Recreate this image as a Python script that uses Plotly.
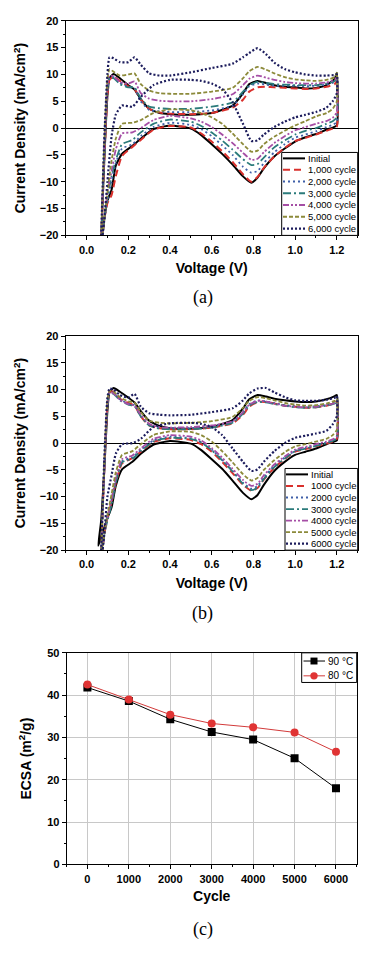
import plotly.graph_objects as go

W, H = 366, 962

# ---------------- data: panel (a) ----------------
V_UP = [0.07, 0.085, 0.10, 0.11, 0.13, 0.16, 0.20, 0.23, 0.26, 0.30, 0.35, 0.40, 0.50, 0.60,
        0.70, 0.75, 0.78, 0.82, 0.86, 0.90, 0.95, 1.00, 1.05, 1.10, 1.15, 1.19, 1.20]
V_DN = [1.20, 1.18, 1.15, 1.10, 1.05, 1.00, 0.95, 0.90, 0.85, 0.82, 0.79, 0.75, 0.70, 0.65,
        0.60, 0.55, 0.50, 0.40, 0.32, 0.26, 0.22, 0.17, 0.14, 0.12, 0.10, 0.085, 0.07]

A_INIT_UP = [-22, -6, 6, 9.3, 10.1, 9.3, 8.0, 7.2, 5.4, 3.6, 2.8, 2.6, 2.5, 2.8, 4.2, 6.5, 8.2, 8.8, 8.4, 8.0, 7.7, 7.6, 7.4, 7.5, 8.0, 9.2, 10.3]
A_INIT_DN = [0.5, 0.1, -0.3, -1.1, -1.7, -2.5, -3.8, -5.3, -7.5, -9.2, -10.2, -9.0, -6.8, -4.8, -3.0, -1.3, -0.1, 0.5, -0.2, -2.0, -3.3, -4.8, -7.0, -11.5, -13.5, -17, -22]
A_1000_UP = [-22, -6, 6, 9.0, 9.6, 8.8, 7.8, 7.3, 5.3, 3.6, 2.9, 2.7, 2.6, 2.8, 3.8, 5.3, 6.8, 7.6, 7.7, 7.6, 7.5, 7.4, 7.3, 7.4, 7.7, 8.2, 8.8]
A_1000_DN = [0.3, -0.1, -0.5, -1.2, -1.8, -2.4, -3.7, -5.3, -7.4, -9.1, -10.0, -8.6, -6.3, -4.3, -2.5, -1.0, 0.1, 0.4, -0.3, -2.2, -3.5, -5.2, -9.0, -12.5, -14.0, -17, -22]
A_2000_UP = [-22, -5, 7, 9.3, 9.5, 8.5, 7.7, 7.4, 5.0, 3.4, 3.1, 3.0, 3.0, 3.3, 4.2, 6.3, 7.8, 8.3, 8.1, 7.9, 7.9, 7.9, 7.8, 7.9, 8.1, 8.6, 9.0]
A_2000_DN = [1.2, 0.6, 0.2, -0.6, -1.2, -1.8, -3.0, -4.5, -6.5, -8.0, -8.3, -7.2, -5.0, -3.2, -1.5, -0.2, 0.6, 1.0, 0.2, -1.5, -3.0, -3.8, -6.5, -10.0, -13.5, -17, -22]
A_3000_UP = [-22, -5, 7, 9.4, 9.3, 8.2, 7.6, 7.6, 5.5, 4.0, 3.7, 3.6, 3.6, 4.0, 4.8, 6.8, 8.0, 8.6, 8.4, 8.2, 8.1, 8.0, 8.0, 8.0, 8.3, 8.8, 9.2]
A_3000_DN = [2.0, 1.3, 0.8, 0.0, -0.5, -1.2, -2.3, -3.6, -5.5, -6.7, -6.9, -5.8, -4.0, -2.3, -0.8, 0.4, 1.2, 1.6, 0.8, -0.8, -2.2, -3.0, -6.0, -9.0, -13.0, -17, -22]
A_4000_UP = [-22, -4, 8, 9.8, 9.6, 8.6, 8.3, 8.7, 6.5, 5.5, 5.1, 5.0, 5.0, 5.4, 6.3, 8.0, 9.2, 9.8, 9.4, 9.0, 8.6, 8.4, 8.3, 8.3, 8.5, 9.0, 9.5]
A_4000_DN = [3.0, 1.9, 1.3, 0.8, 0.2, -0.4, -1.5, -2.8, -4.5, -5.7, -5.9, -4.6, -2.8, -1.2, 0.2, 1.2, 1.8, 2.3, 1.5, 0.0, -0.8, -1.0, -4.0, -8.0, -12.0, -17, -22]
A_5000_UP = [-22, -3, 9, 11.0, 10.5, 9.8, 10.0, 10.2, 8.2, 7.0, 6.5, 6.4, 6.4, 6.8, 7.5, 9.3, 10.6, 11.4, 10.9, 10.2, 9.5, 9.1, 8.9, 8.8, 9.0, 9.5, 10.3]
A_5000_DN = [5.0, 3.6, 2.8, 2.2, 1.3, 0.5, -0.5, -1.6, -3.0, -4.2, -4.4, -3.0, -1.0, 0.8, 2.0, 2.8, 3.3, 3.5, 2.8, 1.5, 1.0, 0.8, -2.0, -6.0, -12.0, -17, -22]
A_6000_UP = [-22, -2, 10, 13.2, 13.0, 12.3, 12.3, 13.2, 11.8, 10.2, 9.8, 9.8, 10.4, 11.2, 12.0, 13.2, 14.0, 14.9, 13.8, 12.2, 11.0, 10.4, 10.0, 9.8, 9.8, 9.9, 10.0]
A_6000_DN = [6.5, 5.0, 3.8, 3.0, 2.5, 2.0, 1.2, 0.2, -1.2, -2.3, -2.4, 0.8, 4.8, 7.3, 8.3, 8.8, 9.0, 9.0, 8.0, 5.8, 4.0, 4.2, 2.5, -1.5, -10, -17, -22]

# ---------------- data: panel (b) ----------------
B_INIT_END_V = 0.056
B_INIT_END_I = -19.2
B_INIT_UP = [-14.5, -5, 6, 9.5, 10.3, 9.6, 8.5, 7.6, 6.0, 4.2, 3.2, 2.8, 2.7, 3.0, 4.3, 6.5, 8.2, 9.0, 8.7, 8.3, 8.0, 7.8, 7.7, 7.8, 8.2, 8.8, 9.0]
B_INIT_DN = [0.5, 0.2, -0.2, -1.0, -1.6, -2.2, -3.5, -5.2, -7.8, -9.7, -10.5, -9.3, -7.0, -4.8, -3.0, -1.3, -0.1, 0.4, -0.3, -2.0, -3.5, -4.9, -8.0, -12.0, -14.0, -15.8, -17.5]
B_1000_UP = [-22, -5, 7, 9.6, 9.6, 8.3, 7.5, 7.0, 5.0, 3.3, 2.8, 2.6, 2.6, 2.9, 3.7, 5.3, 6.8, 7.7, 7.7, 7.4, 7.0, 6.8, 6.6, 6.7, 7.0, 7.5, 7.8]
B_1000_DN = [0.8, 0.3, -0.1, -0.6, -1.1, -1.6, -3.0, -4.6, -6.8, -8.4, -8.9, -7.8, -5.6, -3.5, -1.6, -0.2, 0.6, 0.9, 0.2, -1.6, -2.8, -3.8, -7.5, -11.0, -14.0, -17, -22]
B_2000_UP = [-22, -5, 7, 9.5, 9.4, 8.2, 7.4, 7.1, 5.2, 3.5, 2.9, 2.8, 2.8, 3.1, 4.0, 5.8, 7.3, 8.0, 7.8, 7.5, 7.1, 6.9, 6.8, 6.9, 7.2, 7.6, 8.0]
B_2000_DN = [1.0, 0.5, 0.1, -0.4, -0.9, -1.4, -2.7, -4.2, -6.4, -8.0, -8.5, -7.4, -5.2, -3.1, -1.2, 0.2, 0.9, 1.2, 0.5, -1.3, -2.6, -3.4, -7.0, -10.5, -13.5, -17, -22]
B_3000_UP = [-22, -5, 7, 9.4, 9.2, 8.0, 7.2, 6.9, 5.0, 3.3, 2.7, 2.6, 2.6, 2.9, 3.8, 5.5, 7.0, 7.7, 7.6, 7.3, 7.0, 6.7, 6.6, 6.7, 7.0, 7.4, 7.8]
B_3000_DN = [0.9, 0.4, 0.0, -0.5, -1.0, -1.5, -2.9, -4.5, -6.7, -8.3, -8.8, -7.6, -5.3, -3.2, -1.3, 0.1, 0.8, 1.0, 0.3, -1.5, -2.9, -3.6, -7.5, -11.5, -14.5, -17, -22]
B_4000_UP = [-22, -5, 7.5, 9.5, 9.3, 8.1, 7.3, 7.0, 5.3, 3.6, 3.0, 2.9, 3.0, 3.3, 4.1, 5.8, 7.2, 7.9, 7.8, 7.4, 7.0, 6.8, 6.7, 6.8, 7.1, 7.5, 7.9]
B_4000_DN = [1.2, 0.7, 0.3, -0.2, -0.7, -1.2, -2.5, -4.0, -6.0, -7.6, -8.0, -6.9, -4.8, -2.7, -0.9, 0.5, 1.2, 1.5, 0.8, -1.0, -2.3, -3.0, -6.5, -10.5, -14.0, -17, -22]
B_5000_UP = [-22, -4, 8, 9.8, 9.6, 8.6, 7.8, 7.6, 5.8, 4.2, 3.8, 3.7, 3.8, 4.1, 4.9, 6.6, 7.9, 8.6, 8.4, 8.0, 7.5, 7.2, 7.0, 7.1, 7.4, 7.9, 8.3]
B_5000_DN = [2.5, 1.5, 0.8, 0.3, -0.2, -0.6, -1.7, -3.2, -5.0, -6.5, -7.0, -5.8, -3.6, -1.5, 0.3, 1.5, 2.1, 2.2, 1.5, -0.2, -1.5, -2.2, -5.5, -9.5, -13.5, -17, -22]
B_6000_UP = [-22, -3, 8.5, 10.2, 10.0, 9.0, 8.5, 9.2, 6.8, 5.6, 5.3, 5.2, 5.3, 5.8, 6.5, 8.0, 9.3, 10.2, 10.3, 9.5, 8.6, 8.0, 7.9, 7.9, 8.1, 8.5, 8.8]
B_6000_DN = [5.0, 3.5, 2.3, 1.8, 1.4, 1.0, 0.0, -1.5, -3.5, -4.9, -5.2, -3.5, -1.0, 1.5, 3.0, 3.6, 3.8, 3.7, 3.0, 0.8, 0.0, -0.2, -2.0, -6.0, -10.0, -17, -22]

A_NAMES = ["Initial", "1,000 cycle", "2,000 cycle", "3,000 cycle", "4,000 cycle", "5,000 cycle", "6,000 cycle"]
B_NAMES = ["Initial", "1000 cycle", "2000 cycle", "3000 cycle", "4000 cycle", "5000 cycle", "6000 cycle"]

# ---------------- data: panel (c) ----------------
CYCLES = [0, 1000, 2000, 3000, 4000, 5000, 6000]
ECSA_90 = [41.8, 38.6, 34.3, 31.3, 29.5, 25.1, 18.0]
ECSA_80 = [42.5, 39.0, 35.4, 33.3, 32.4, 31.2, 26.6]
C_NAMES = ["90 \u00b0C", "80 \u00b0C"]

# ---------------- styles ----------------
COLORS = ["#000000", "#d9302c", "#3f5fa8", "#2b7b7b", "#a54ea5", "#8c8a3a", "#1c1c5c"]
DASHES = ["solid", "7px,4px", "2px,3px", "8px,3px,2px,3px", "6px,2px,2px,2px,2px,2px", "4px,2px", "2px,2px"]
WIDTHS = [2, 2, 1.8, 1.8, 1.8, 1.8, 2.2]

SANS = "Liberation Sans, Arial, sans-serif"
SERIF = "Liberation Serif, Times New Roman, serif"


def px(x):
    return x / W


def py(y):
    return 1 - y / H


# plot areas in pixels (left, right, top, bottom)
PA = (65.7, 357.7, 15.0, 232.3)
PB = (65.7, 357.7, 334.3, 551.0)
PC = (66.7, 356.7, 655.0, 869.3)

fig = go.Figure()

a_sets = [(A_INIT_UP, A_INIT_DN), (A_1000_UP, A_1000_DN), (A_2000_UP, A_2000_DN), (A_3000_UP, A_3000_DN),
          (A_4000_UP, A_4000_DN), (A_5000_UP, A_5000_DN), (A_6000_UP, A_6000_DN)]
b_sets = [(B_INIT_UP, B_INIT_DN), (B_1000_UP, B_1000_DN), (B_2000_UP, B_2000_DN), (B_3000_UP, B_3000_DN),
          (B_4000_UP, B_4000_DN), (B_5000_UP, B_5000_DN), (B_6000_UP, B_6000_DN)]

for i, (up, dn) in enumerate(a_sets):
    fig.add_trace(go.Scatter(x=V_UP + V_DN, y=up + dn, mode="lines", name=A_NAMES[i],
                             line=dict(color=COLORS[i], dash=DASHES[i], width=WIDTHS[i], shape="spline", smoothing=0.5),
                             xaxis="x", yaxis="y", showlegend=False))

for i, (up, dn) in enumerate(b_sets):
    xs = V_UP + V_DN
    ys = up + dn
    if i == 0:
        xs = [B_INIT_END_V] + xs + [B_INIT_END_V]
        ys = [B_INIT_END_I] + ys + [B_INIT_END_I]
    fig.add_trace(go.Scatter(x=xs, y=ys, mode="lines", name=B_NAMES[i],
                             line=dict(color=COLORS[i], dash=DASHES[i], width=WIDTHS[i], shape="spline", smoothing=0.5),
                             xaxis="x2", yaxis="y2", showlegend=False))

fig.add_trace(go.Scatter(x=CYCLES, y=ECSA_90, mode="lines+markers", name=C_NAMES[0],
                         line=dict(color="#000000", width=1),
                         marker=dict(symbol="square", size=8, color="#000000"),
                         xaxis="x3", yaxis="y3", showlegend=False))
fig.add_trace(go.Scatter(x=CYCLES, y=ECSA_80, mode="lines+markers", name=C_NAMES[1],
                         line=dict(color="#d23a3a", width=1),
                         marker=dict(symbol="circle", size=8, color="#e03434"),
                         xaxis="x3", yaxis="y3", showlegend=False))

tickfont = dict(family=SANS, size=11, color="black", weight="bold")
titlefont = dict(family=SANS, size=14, color="black", weight="bold")


def xax(area, anchor, rng, dtick, mdtick, title, standoff, grid=False):
    return dict(domain=[px(area[0]), px(area[1])], anchor=anchor, range=rng, dtick=dtick, tick0=0,
                showline=True, linecolor="black", linewidth=1, mirror=True,
                ticks="outside", ticklen=4, tickwidth=1, tickcolor="black",
                minor=dict(dtick=mdtick, ticks="outside", ticklen=2, tickcolor="black", showgrid=False),
                showgrid=grid, gridcolor="#c8c8c8", gridwidth=1, zeroline=False,
                tickfont=tickfont, title=dict(text=title, font=titlefont, standoff=standoff))


def yax(area, anchor, rng, dtick, mdtick, title, standoff, grid=False, zl=False):
    return dict(domain=[py(area[3]), py(area[2])], anchor=anchor, range=rng, dtick=dtick, tick0=0,
                showline=True, linecolor="black", linewidth=1, mirror=True,
                ticks="outside", ticklen=4, tickwidth=1, tickcolor="black",
                minor=dict(dtick=mdtick, ticks="outside", ticklen=2, tickcolor="black", showgrid=False),
                showgrid=grid, gridcolor="#c8c8c8", gridwidth=1,
                zeroline=zl, zerolinecolor="black", zerolinewidth=1,
                tickfont=tickfont, title=dict(text=title, font=titlefont, standoff=standoff))


ytitle_cv = "Current Density (mA/cm<sup>2</sup>)"
fig.update_layout(
    width=W, height=H, margin=dict(l=0, r=0, t=0, b=0),
    paper_bgcolor="white", plot_bgcolor="white", showlegend=False,
    xaxis=xax(PA, "y", [-0.1, 1.3], 0.2, 0.1, "Voltage (V)", 8),
    yaxis=yax(PA, "x", [-20, 20], 5, 2.5, ytitle_cv, 10, zl=True),
    xaxis2=xax(PB, "y2", [-0.1, 1.3], 0.2, 0.1, "Voltage (V)", 8),
    yaxis2=yax(PB, "x2", [-20, 20], 5, 2.5, ytitle_cv, 10, zl=True),
    xaxis3=xax(PC, "y3", [-500, 6500], 1000, 500, "Cycle", 7, grid=True),
    yaxis3=yax(PC, "x3", [0, 50], 10, 5, "ECSA (m<sup>2</sup>/g)", 12, grid=True),
)
fig.update_xaxes(tickformat=".1f", selector=dict(anchor="y"))
fig.update_xaxes(tickformat=".1f", selector=dict(anchor="y2"))

shapes = []
annotations = []


def legend_box(x0, x1, y0, y1):
    shapes.append(dict(type="rect", xref="paper", yref="paper", x0=px(x0), x1=px(x1), y0=py(y1), y1=py(y0),
                       line=dict(color="black", width=1), fillcolor="white", layer="above"))


def cv_legend(box, rows, lx0, lx1, tx, names):
    legend_box(*box)
    for i, yy in enumerate(rows):
        shapes.append(dict(type="line", xref="paper", yref="paper", x0=px(lx0), x1=px(lx1), y0=py(yy), y1=py(yy),
                           line=dict(color=COLORS[i], dash=DASHES[i], width=WIDTHS[i]), layer="above"))
        annotations.append(dict(xref="paper", yref="paper", x=px(tx), y=py(yy), text=names[i], showarrow=False,
                                xanchor="left", yanchor="middle", font=dict(family=SANS, size=9.5, color="black")))


cv_legend((281.7, 357.7, 148.3, 232.3), [154.3, 165.9, 177.7, 189.6, 201.5, 213.4, 225.5], 283.0, 305.0, 305.5, A_NAMES)
cv_legend((285.0, 357.7, 468.3, 551.0), [474.3, 486.0, 497.7, 509.4, 521.1, 532.8, 544.5], 286.0, 308.0, 308.5, B_NAMES)

# legend (c)
legend_box(301.7, 356.7, 655.0, 685.0)
c_rows = [663.3, 678.3]
c_cols = ["#000000", "#d23a3a"]
c_mcols = ["#000000", "#e03434"]
for i, yy in enumerate(c_rows):
    shapes.append(dict(type="line", xref="paper", yref="paper", x0=px(303.5), x1=px(325.0), y0=py(yy), y1=py(yy),
                       line=dict(color=c_cols[i], width=1), layer="above"))
    if i == 0:
        shapes.append(dict(type="rect", xref="paper", yref="paper", x0=px(310.5), x1=px(317.5),
                           y0=py(yy + 3.5), y1=py(yy - 3.5), line=dict(width=0), fillcolor=c_mcols[i], layer="above"))
    else:
        shapes.append(dict(type="circle", xref="paper", yref="paper", x0=px(310.3), x1=px(317.7),
                           y0=py(yy + 3.7), y1=py(yy - 3.7), line=dict(width=0), fillcolor=c_mcols[i], layer="above"))
    annotations.append(dict(xref="paper", yref="paper", x=px(326.0), y=py(yy), text=C_NAMES[i], showarrow=False,
                            xanchor="left", yanchor="middle", font=dict(family=SANS, size=10, color="black")))

# captions
for txt, yy in [("(a)", 295.0), ("(b)", 615.0), ("(c)", 935.0)]:
    annotations.append(dict(xref="paper", yref="paper", x=px(203.0), y=py(yy), text=txt, showarrow=False,
                            xanchor="center", yanchor="middle", font=dict(family=SERIF, size=18, color="black")))

fig.update_layout(shapes=shapes, annotations=annotations)

fig.write_html("out.html")
